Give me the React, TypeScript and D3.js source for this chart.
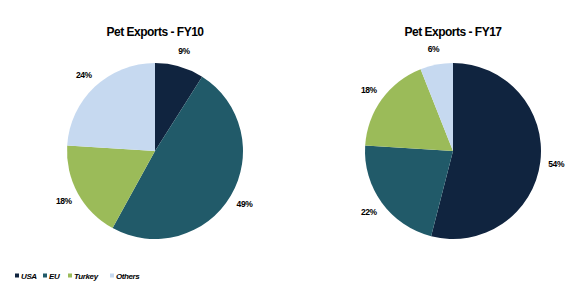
import React from "react";
import * as d3 from "d3";

const categories = ["USA", "EU", "Turkey", "Others"];
const colors = ["#10243F", "#215A69", "#9BBB59", "#C6D9F0"];
const fy10Values = [9, 49, 18, 24];
const fy17Values = [54, 22, 18, 6];
const titles = ["Pet Exports - FY10", "Pet Exports - FY17"];

const W = 574;
const H = 305;
const R = 88;
const LABEL_R = 104;
const centers = [
  { x: 155, y: 151 },
  { x: 453, y: 151 },
];
const FONT = "'Liberation Sans', Arial, sans-serif";

function Pie({ values, cx, cy, title }: { values: number[]; cx: number; cy: number; title: string }) {
  const pie = d3.pie<number>().sort(null).value((d) => d);
  const arcs = pie(values);
  const arc = d3.arc<d3.PieArcDatum<number>>().innerRadius(0).outerRadius(R);
  const labelArc = d3.arc<d3.PieArcDatum<number>>().innerRadius(LABEL_R).outerRadius(LABEL_R);
  return (
    <g>
      <text
        x={cx}
        y={cy - 115}
        textAnchor="middle"
        fontFamily={FONT}
        fontWeight="bold"
        fontSize={12}
        letterSpacing={-0.5}
        fill="#000"
      >
        {title}
      </text>
      <g transform={`translate(${cx},${cy})`}>
        {arcs.map((a, i) => (
          <path key={i} d={arc(a) || ""} fill={colors[i]} />
        ))}
        {arcs.map((a, i) => {
          const [lx, ly] = labelArc.centroid(a);
          return (
            <text
              key={"l" + i}
              x={lx}
              y={ly + 3}
              textAnchor="middle"
              fontFamily={FONT}
              fontWeight="bold"
              fontSize={8.5}
              letterSpacing={-0.4}
              fill="#000"
            >
              {`${a.data}%`}
            </text>
          );
        })}
      </g>
    </g>
  );
}

export default function App() {
  const legendOffsets = [15, 43, 68, 110];
  return (
    <svg width={W} height={H} style={{ position: "absolute", left: 0, top: 0, background: "#fff" }}>
      <rect width={W} height={H} fill="#fff" />
      <Pie values={fy10Values} cx={centers[0].x} cy={centers[0].y} title={titles[0]} />
      <Pie values={fy17Values} cx={centers[1].x} cy={centers[1].y} title={titles[1]} />
      <g>
        {categories.map((c, i) => (
          <g key={c} transform={`translate(${legendOffsets[i]},276)`}>
            <rect x={0} y={-2.5} width={4} height={4} fill={colors[i]} />
            <text
              x={6}
              y={2.5}
              fontFamily={FONT}
              fontWeight="bold"
              fontStyle="italic"
              fontSize={8}
              letterSpacing={-0.4}
              fill="#000"
            >
              {c}
            </text>
          </g>
        ))}
      </g>
    </svg>
  );
}
